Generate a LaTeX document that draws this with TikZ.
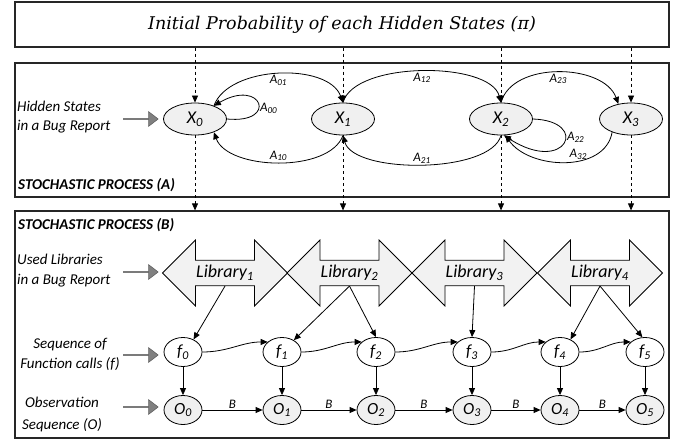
\documentclass[tikz,border=0pt]{standalone}
\usepackage{fontspec}
\setmainfont{Carlito}
\newfontfamily\titlefont{DejaVu Serif}
\usepackage{tikz}
\usetikzlibrary{shapes.geometric,shapes.arrows,arrows.meta}

\tikzset{
    panel/.style={draw=black!85,line width=1.2pt,minimum width=654pt,inner sep=0pt},
    hidden/.style={ellipse,draw,line width=0.8pt,fill=gray!12,minimum width=63pt,minimum height=32pt,inner sep=0pt,font=\fontsize{18}{20}\selectfont\itshape},
    func/.style={ellipse,draw,line width=0.8pt,fill=white,minimum width=38pt,minimum height=29pt,inner sep=0pt,font=\fontsize{17}{19}\selectfont\itshape},
    obs/.style={func,fill=gray!12},
    lib/.style={double arrow,draw,line width=0.8pt,fill=gray!10,minimum height=125pt,minimum width=66pt,double arrow head extend=13pt,inner sep=0pt,font=\fontsize{18}{20}\selectfont\itshape},
    pointer/.style={single arrow,draw=gray!60!black,fill=gray,minimum height=35pt,minimum width=15pt,single arrow head extend=4pt,single arrow tip angle=75,inner sep=0pt},
    sidelabel/.style={align=left,anchor=west,inner sep=0pt,font=\fontsize{15}{19}\selectfont\itshape},
    proclabel/.style={anchor=west,inner sep=0pt,font=\fontsize{15}{17}\selectfont\bfseries\itshape},
    edgelabel/.style={font=\fontsize{13}{14}\selectfont\itshape,inner sep=1pt},
    link/.style={line width=0.8pt,-{Triangle[length=7pt,width=6pt]}},
    dashedlink/.style={link,dashed},
}

\begin{document}
\begin{tikzpicture}[x=1pt,y=1pt]
    \useasboundingbox (0,0) rectangle (679,442);
    \node[panel,minimum height=45pt,font=\titlefont\fontsize{17.5}{20}\selectfont\itshape] (pi) at (342,417.5) {Initial Probability of each Hidden States (π)};
    \node[panel,minimum height=134pt] (procA) at (342,312) {};
    \node[panel,minimum height=227pt] (procB) at (342,117.5) {};

    \node[hidden] (x0) at (195,323) {X\textsubscript{0}};
    \node[hidden] (x1) at (343,323) {X\textsubscript{1}};
    \node[hidden] (x2) at (501,323) {X\textsubscript{2}};
    \node[hidden] (x3) at (631,323) {X\textsubscript{3}};
    \node[sidelabel] (hiddenlbl) at (17,325) {Hidden States\\in a Bug Report};
    \node[pointer] (hiddenptr) at (140.5,323) {};
    \node[proclabel] (procAlbl) at (18,257) {STOCHASTIC PROCESS (A)};

    \node[proclabel] (procBlbl) at (18,217) {STOCHASTIC PROCESS (B)};
    \node[lib] (lib1) at (225,169) {Library\textsubscript{1}};
    \node[lib] (lib2) at (349.5,169) {Library\textsubscript{2}};
    \node[lib] (lib3) at (474.5,169) {Library\textsubscript{3}};
    \node[lib] (lib4) at (600,169) {Library\textsubscript{4}};
    \node[sidelabel,font=\fontsize{15}{20}\selectfont\itshape] (liblbl) at (17,171) {Used Libraries\\in a Bug Report};
    \node[pointer] (libptr) at (140.5,170) {};

    \node[func] (f0) at (183,90) {f\textsubscript{0}};
    \node[func] (f1) at (282,90) {f\textsubscript{1}};
    \node[func] (f2) at (376,90) {f\textsubscript{2}};
    \node[func] (f3) at (472,90) {f\textsubscript{3}};
    \node[func] (f4) at (560,90) {f\textsubscript{4}};
    \node[func] (f5) at (645,90) {f\textsubscript{5}};
    \node[sidelabel,align=center,anchor=center,font=\fontsize{15}{20}\selectfont\itshape] (funclbl) at (70,88) {Sequence of\\Function calls (f)};
    \node[pointer] (funcptr) at (140.5,87) {};

    \node[obs] (o0) at (183,32) {O\textsubscript{0}};
    \node[obs] (o1) at (282,32) {O\textsubscript{1}};
    \node[obs] (o2) at (376,32) {O\textsubscript{2}};
    \node[obs] (o3) at (472,32) {O\textsubscript{3}};
    \node[obs] (o4) at (560,32) {O\textsubscript{4}};
    \node[obs] (o5) at (645,32) {O\textsubscript{5}};
    \node[sidelabel,align=center,anchor=center,font=\fontsize{15}{22}\selectfont\itshape] (obslbl) at (62,28) {Observation\\Sequence (O)};
    \node[pointer] (obsptr) at (140.5,35) {};

    \draw[dashedlink] (pi.south -| x0) -- (x0.north);
    \draw[dashedlink] (pi.south -| x1) -- (x1.north);
    \draw[dashedlink] (pi.south -| x2) -- (x2.north);
    \draw[dashedlink] (pi.south -| x3) -- (x3.north);
    \draw[dashedlink] (x0.south) -- (x0 |- procB.north);
    \draw[dashedlink] (x1.south) -- (x1 |- procB.north);
    \draw[dashedlink] (x2.south) -- (x2 |- procB.north);
    \draw[dashedlink] (x3.south) -- (x3 |- procB.north);

    \draw[link] (x0.east) .. controls +(52,-5) and +(48,28) .. (x0.35) node[edgelabel,right,pos=0.4] {A\textsubscript{00}};
    \draw[link] (x0.35) to[out=70,in=110,looseness=0.85] node[edgelabel,below] {A\textsubscript{01}} (x1.north);
    \draw[link] (x1.south) to[out=-110,in=-70,looseness=0.8] node[edgelabel,above] {A\textsubscript{10}} (x0.-35);
    \draw[link] (x1.north) to[out=75,in=105,looseness=0.7] node[edgelabel,below] {A\textsubscript{12}} (x2.north);
    \draw[link] (x2.south) to[out=-105,in=-75,looseness=0.65] node[edgelabel,above] {A\textsubscript{21}} (x1.south);
    \draw[link] (x2.north) to[out=75,in=110,looseness=0.94] node[edgelabel,below] {A\textsubscript{23}} (x3.130);
    \draw[link] (x2.east) .. controls +(58,-2) and +(62,-40) .. (x2.-80) node[edgelabel,right,pos=0.4] {A\textsubscript{22}};
    \draw[link] (x3.-145) to[out=-100,in=-55] node[edgelabel,above,pos=0.4] {A\textsubscript{32}} (x2.-75);

    \draw[link] (lib1.south) -- (f0.50);
    \draw[link] (lib2.south) -- (f1.45);
    \draw[link] (lib2.south) -- (f2.north);
    \draw[link] (lib3.south) -- (f3.north);
    \draw[link] (lib4.south) -- (f4.50);
    \draw[link] (lib4.south) -- (f5.100);

    \draw[link] (f0.east) to[out=0,in=180] (f1.145);
    \draw[link] (f1.east) to[out=0,in=180] (f2.145);
    \draw[link] (f2.east) to[out=0,in=180] (f3.145);
    \draw[link] (f3.east) to[out=0,in=180] (f4.145);
    \draw[link] (f4.east) to[out=0,in=180] (f5.145);

    \draw[link] (f0) -- (o0);
    \draw[link] (f1) -- (o1);
    \draw[link] (f2) -- (o2);
    \draw[link] (f3) -- (o3);
    \draw[link] (f4) -- (o4);
    \draw[link] (f5) -- (o5);

    \draw[link] (o0) -- node[edgelabel,above] {B} (o1);
    \draw[link] (o1) -- node[edgelabel,above] {B} (o2);
    \draw[link] (o2) -- node[edgelabel,above] {B} (o3);
    \draw[link] (o3) -- node[edgelabel,above] {B} (o4);
    \draw[link] (o4) -- node[edgelabel,above] {B} (o5);
\end{tikzpicture}
\end{document}
